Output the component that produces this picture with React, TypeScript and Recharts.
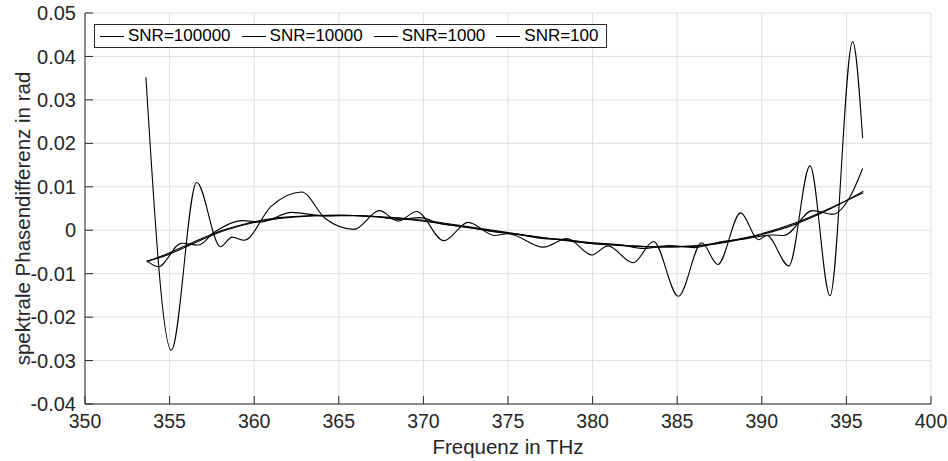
import { CartesianGrid, Line, LineChart, XAxis, YAxis } from "recharts";

// frequency axis ticks (THz) and phase ticks (rad)
const freqTicks = [350, 355, 360, 365, 370, 375, 380, 385, 390, 395, 400];
const phaseTicks = [-0.04, -0.03, -0.02, -0.01, 0, 0.01, 0.02, 0.03, 0.04, 0.05];

const seriesNames = ["SNR=100000", "SNR=10000", "SNR=1000", "SNR=100"];

// SNR=100000
const snr100000Freq = [353.65, 355, 356.5, 358, 359.5, 361.5, 363.5, 365, 367, 370, 373, 376, 379, 382, 384, 386, 388, 390, 392, 394, 396];
const snr100000Phase = [-0.0071, -0.0055, -0.0029, -0.0004, 0.0013, 0.0027, 0.0033, 0.0034, 0.0032, 0.0023, 0.0006, -0.0011, -0.0027, -0.0036, -0.0038, -0.0036, -0.0025, -0.0008, 0.0017, 0.005, 0.0086];

// SNR=10000
const snr10000Freq = [353.65, 355, 356.5, 358, 359.5, 361.5, 363.5, 365, 367, 370, 373, 376, 379, 382, 384, 386, 388, 390, 392, 394, 396];
const snr10000Phase = [-0.0073, -0.0052, -0.0026, -0.0002, 0.0015, 0.0029, 0.0034, 0.0035, 0.0031, 0.0021, 0.0004, -0.0012, -0.0025, -0.0035, -0.0039, -0.0037, -0.0027, -0.001, 0.0014, 0.0048, 0.009];

// SNR=1000
const snr1000Freq = [353.65, 354.33, 355.7, 356.7, 357.6, 359.3, 360.4, 362.2, 364.2, 366, 367.3, 368.5, 369.8, 371, 372.5, 374, 375.5, 377, 378.5, 380, 381.5, 383, 384.5, 386, 387.5, 389, 390.6, 391.3, 393, 394.2, 395.2, 395.96];
const snr1000Phase = [-0.007, -0.0084, -0.003, -0.0034, -0.0006, 0.0022, 0.0019, 0.0041, 0.0033, 0.0034, 0.0031, 0.0025, 0.0029, 0.0015, 0.0008, -0.0003, -0.0009, -0.0019, -0.0022, -0.0031, -0.0033, -0.0042, -0.0035, -0.004, -0.0027, -0.002, -0.0011, -0.0012, 0.0045, 0.0037, 0.0076, 0.0142];

// SNR=100
const snr100Freq = [353.6, 355.1, 356.6, 358, 358.7, 359.4, 361, 362.8, 364.2, 365.9, 367.4, 368.5, 369.6, 371.2, 372.65, 374.2, 375, 377.1, 378.5, 379.95, 380.9, 382.4, 383.6, 385.07, 386.45, 387.4, 388.75, 389.8, 390.3, 391.6, 392.85, 394.03, 395.37, 395.96];
const snr100Phase = [0.0352, -0.0276, 0.011, -0.0038, -0.0016, -0.0023, 0.0055, 0.0088, 0.0027, 0.0002, 0.0045, 0.0021, 0.0043, -0.0024, 0.0018, -0.0012, -0.0008, -0.0039, -0.0019, -0.0057, -0.0036, -0.0075, -0.0026, -0.0152, -0.0029, -0.0079, 0.004, -0.0022, -0.0012, -0.0082, 0.0148, -0.0151, 0.0434, 0.0212];

function toPoints(freq: number[], phase: number[]) {
  return freq.map((f, i) => ({ f, p: phase[i] }));
}

const series = [
  { name: seriesNames[0], data: toPoints(snr100000Freq, snr100000Phase) },
  { name: seriesNames[1], data: toPoints(snr10000Freq, snr10000Phase) },
  { name: seriesNames[2], data: toPoints(snr1000Freq, snr1000Phase) },
  { name: seriesNames[3], data: toPoints(snr100Freq, snr100Phase) },
];

const axisColor = "#262626";
const font = '"Liberation Sans", Arial, sans-serif';

function formatPhase(v: number) {
  return v === 0 ? "0" : v.toFixed(2);
}

function YLabel(props: any) {
  const vb = props.viewBox || { x: 0, y: 13, width: 85, height: 391 };
  const cx = vb.x + 22;
  const cy = vb.y + vb.height / 2 + 10;
  return (
    <text
      x={cx}
      y={cy}
      transform={`rotate(-90 ${cx} ${cy})`}
      textAnchor="middle"
      dominantBaseline="central"
      fill={axisColor}
      fontSize={20.5}
      fontFamily={font}
    >
      spektrale Phasendifferenz in rad
    </text>
  );
}

export default function App() {
  return (
    <div
      style={{
        position: "absolute",
        left: 0,
        top: 0,
        width: 948,
        height: 461,
        background: "#fff",
        fontFamily: font,
      }}
    >
      <LineChart
        width={948}
        height={461}
        margin={{ top: 13, right: 17, bottom: 7, left: 0 }}
      >
        <CartesianGrid stroke="#dfdfdf" />
        <XAxis
          dataKey="f"
          type="number"
          domain={[350, 400]}
          ticks={freqTicks}
          allowDataOverflow
          height={50}
          tickSize={-8}
          tickMargin={18}
          stroke={axisColor}
          tick={{ fill: axisColor, fontSize: 19.5, fontFamily: font }}
          label={{
            value: "Frequenz in THz",
            position: "insideBottom",
            offset: 0,
            fill: axisColor,
            fontSize: 20.5,
            fontFamily: font,
          }}
        />
        <XAxis
          xAxisId="top"
          orientation="top"
          dataKey="f"
          type="number"
          domain={[350, 400]}
          ticks={freqTicks}
          height={0}
          tickSize={-8}
          tick={false}
          stroke={axisColor}
        />
        <YAxis
          type="number"
          domain={[-0.04, 0.05]}
          ticks={phaseTicks}
          allowDataOverflow
          width={85}
          tickSize={-8}
          tickMargin={17}
          tickFormatter={formatPhase}
          stroke={axisColor}
          tick={{ fill: axisColor, fontSize: 20, fontFamily: font }}
          label={YLabel}
        />
        <YAxis
          yAxisId="right"
          orientation="right"
          type="number"
          domain={[-0.04, 0.05]}
          ticks={phaseTicks}
          width={0}
          tickSize={-8}
          tick={false}
          stroke={axisColor}
        />
        {series.map((s) => (
          <Line
            key={s.name}
            data={s.data}
            dataKey="p"
            name={s.name}
            type="monotone"
            stroke="#000"
            strokeWidth={1.1}
            dot={false}
            isAnimationActive={false}
          />
        ))}
      </LineChart>

      <div
        style={{
          position: "absolute",
          left: 94,
          top: 24,
          height: 22,
          display: "flex",
          alignItems: "center",
          border: `1px solid ${axisColor}`,
          background: "#fff",
          padding: "0 8px 0 5px",
          fontSize: 17,
          color: "#000",
          whiteSpace: "nowrap",
        }}
      >
        {seriesNames.map((name, i) => (
          <div
            key={name}
            style={{
              display: "flex",
              alignItems: "center",
              marginRight: i < seriesNames.length - 1 ? 11 : 0,
            }}
          >
            <span
              style={{
                display: "inline-block",
                width: 24,
                height: 0,
                borderTop: "1px solid #000",
                marginRight: 4,
              }}
            />
            <span>{name}</span>
          </div>
        ))}
      </div>
    </div>
  );
}
